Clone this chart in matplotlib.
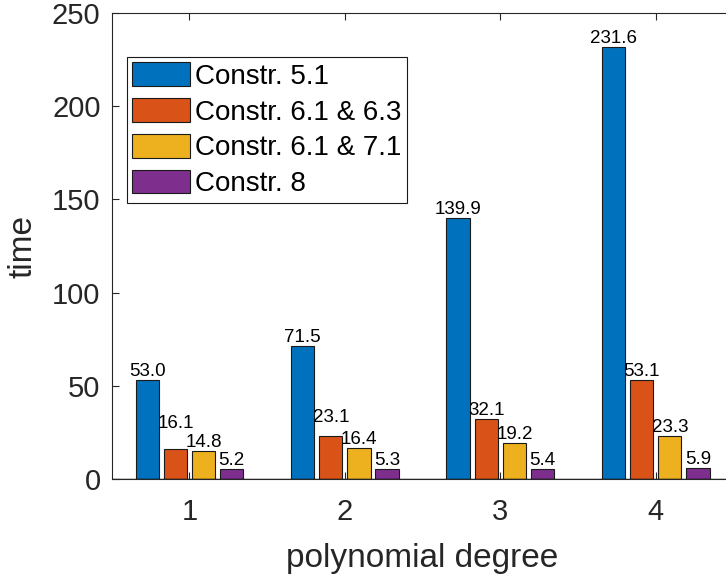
import numpy as np
import matplotlib
matplotlib.use("Agg")
import matplotlib.pyplot as plt

plt.rcParams['font.family'] = ['Liberation Sans', 'DejaVu Sans']

# data
degrees = [1, 2, 3, 4]
series_names = ['Constr. 5.1', 'Constr. 6.1 & 6.3', 'Constr. 6.1 & 7.1', 'Constr. 8']
constr_5_1 = [53.0, 71.5, 139.9, 231.6]
constr_61_63 = [16.1, 23.1, 32.1, 53.1]
constr_61_71 = [14.8, 16.4, 19.2, 23.3]
constr_8 = [5.2, 5.3, 5.4, 5.9]
y_ticks = [0, 50, 100, 150, 200, 250]

series = [constr_5_1, constr_61_63, constr_61_71, constr_8]
colors = ['#0072BD', '#D95319', '#EDB120', '#7E2F8E']
axis_color = '#262626'

# a couple of labels in the reference sit higher than the rest (points)
label_lift = {(1, 0): 12, (1, 1): 7}

fig = plt.figure(figsize=(7.26, 5.76), dpi=100)
ax = fig.add_axes([0.1539, 0.1684, 0.8564, 0.809])

x = np.array(degrees, dtype=float)
step = 0.181
width = 0.15
for i, (vals, name, col) in enumerate(zip(series, series_names, colors)):
    xs = x + (i - 1.5) * step
    ax.bar(xs, vals, width, color=col, edgecolor='#1a1a1a', linewidth=0.8, label=name, zorder=2)
    for j, (xx, v) in enumerate(zip(xs, vals)):
        ax.annotate(f'{v:.1f}', (xx, v), xytext=(0, label_lift.get((i, j), 0)),
                    textcoords='offset points', ha='center', va='bottom',
                    fontsize=13.5, color='black')

ax.set_xlim(0.5, 4.5)
ax.set_ylim(0, 250)
ax.set_xticks(degrees)
ax.set_yticks(y_ticks)
ax.tick_params(direction='in', length=5, width=0.8, colors=axis_color,
               labelsize=21, top=True, right=True)
ax.tick_params(axis='x', pad=14)
ax.tick_params(axis='y', pad=8)
for s in ax.spines.values():
    s.set_color(axis_color)
    s.set_linewidth(0.8)
ax.axhline(0, color='black', linewidth=1.0, zorder=3)

ax.set_xlabel('polynomial degree', fontsize=24, color=axis_color, labelpad=12)
ax.set_ylabel('time', fontsize=24, color=axis_color, labelpad=10)

leg = ax.legend(loc='upper left', bbox_to_anchor=(0.024, 0.906), borderaxespad=0,
                fontsize=20, handlelength=2.09, handleheight=0.94, handletextpad=0.18,
                borderpad=0.2, labelspacing=0.3, fancybox=False, framealpha=1,
                edgecolor='#1a1a1a')
leg.get_frame().set_linewidth(0.8)

fig.savefig('out.png', dpi=100)
